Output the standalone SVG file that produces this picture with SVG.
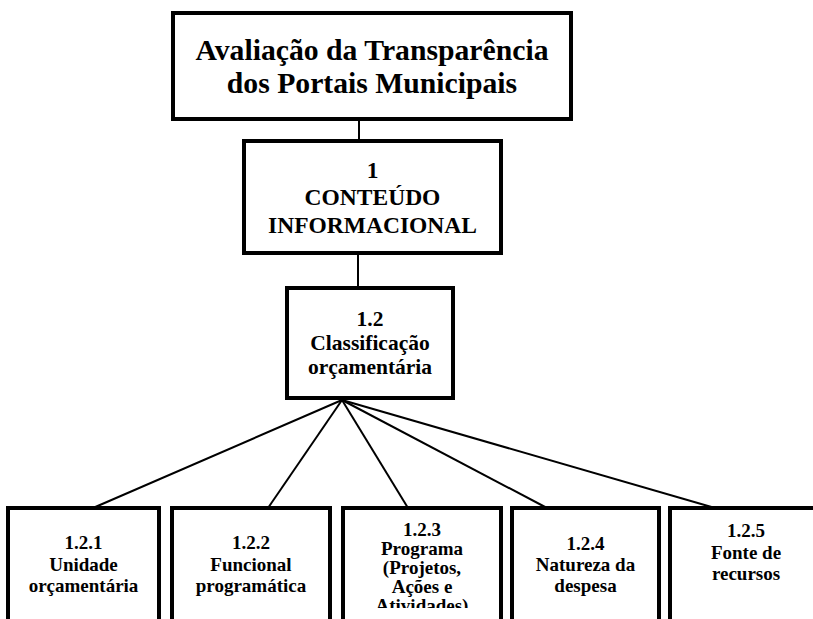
<svg xmlns="http://www.w3.org/2000/svg" width="813" height="619" viewBox="0 0 813 619">
<defs>
<style>
.box{fill:#fff;stroke:#000;stroke-width:4}
.con{stroke:#000;stroke-width:2;fill:none}
text{font-family:"Liberation Serif","Times New Roman",serif;font-weight:bold;fill:#000;text-anchor:middle}
.t0{font-size:29.7px}
.t1{font-size:23.5px}
.t2{font-size:21.5px}
.t3{font-size:19px}
</style>
<clipPath id="clip3"><rect x="343" y="508" width="158" height="100"/></clipPath>
</defs>
<rect width="813" height="619" fill="#fff"/>
<g id="connectors">
<line class="con" x1="359" y1="119" x2="359" y2="141"/>
<line class="con" x1="358" y1="253" x2="358" y2="288"/>
<line class="con" x1="342" y1="400" x2="93" y2="508"/>
<line class="con" x1="342" y1="400" x2="268" y2="508"/>
<line class="con" x1="342" y1="400" x2="408" y2="508"/>
<line class="con" x1="342" y1="400" x2="547" y2="508"/>
<line class="con" x1="342" y1="400" x2="715" y2="508"/>
</g>
<g id="root">
<rect class="box" x="173" y="13" width="398" height="106"/>
<text class="t0" x="372" y="60">Avaliação da Transparência</text>
<text class="t0" x="372" y="93">dos Portais Municipais</text>
</g>
<g id="n1">
<rect class="box" x="244" y="141" width="257" height="112"/>
<text class="t1" x="372.5" y="178">1</text>
<text class="t1" x="372.5" y="205">CONTEÚDO</text>
<text class="t1" x="372.5" y="233">INFORMACIONAL</text>
</g>
<g id="n12">
<rect class="box" x="287" y="288" width="166" height="110"/>
<text class="t2" x="370" y="326">1.2</text>
<text class="t2" x="370" y="350">Classificação</text>
<text class="t2" x="370" y="374">orçamentária</text>
</g>
<g id="n121">
<rect class="box" x="8" y="508" width="151" height="140"/>
<text class="t3" x="83.5" y="549">1.2.1</text>
<text class="t3" x="83.5" y="571">Unidade</text>
<text class="t3" x="83.5" y="592">orçamentária</text>
</g>
<g id="n122">
<rect class="box" x="172" y="508" width="158" height="140"/>
<text class="t3" x="251" y="549">1.2.2</text>
<text class="t3" x="251" y="571">Funcional</text>
<text class="t3" x="251" y="592">programática</text>
</g>
<g id="n123">
<rect class="box" x="343" y="508" width="158" height="140"/>
<g clip-path="url(#clip3)">
<text class="t3" x="422" y="536">1.2.3</text>
<text class="t3" x="422" y="555">Programa</text>
<text class="t3" x="422" y="574">(Projetos,</text>
<text class="t3" x="422" y="593">Ações e</text>
<text class="t3" x="422" y="612">Atividades)</text>
</g>
</g>
<g id="n124">
<rect class="box" x="512" y="508" width="147" height="140"/>
<text class="t3" x="585.5" y="550">1.2.4</text>
<text class="t3" x="585.5" y="571">Natureza da</text>
<text class="t3" x="585.5" y="592">despesa</text>
</g>
<g id="n125">
<rect class="box" x="670" y="508" width="152" height="140"/>
<text class="t3" x="746" y="537">1.2.5</text>
<text class="t3" x="746" y="559">Fonte de</text>
<text class="t3" x="746" y="580">recursos</text>
</g>
</svg>
